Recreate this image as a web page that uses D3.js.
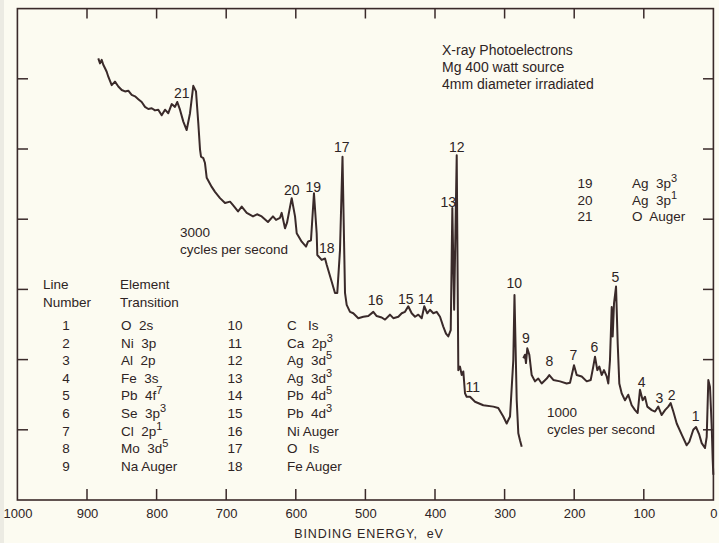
<!DOCTYPE html>
<html><head><meta charset="utf-8">
<script src="https://cdn.jsdelivr.net/npm/d3@7"></script>
<style>
html,body{margin:0;padding:0;background:#fcfbf1;}
svg{display:block;}
text{font-family:"Liberation Sans",Arial,sans-serif;fill:#2e2424;white-space:pre;}
</style></head><body>
<svg id="c" width="719" height="543"></svg>
<script>
// 3000 cycles/s trace (binding energy eV, intensity in axis divisions)
const highRateEnergy = [883.8,881.3,878.9,876.6,874.1,871.7,869.4,864.5,859.8,855.0,850.1,845.4,840.7,835.8,831.0,826.3,821.4,816.7,811.9,807.0,802.3,797.6,792.7,787.9,783.2,778.3,773.6,770.3,766.4,761.6,756.8,752.0,747.3,743.4,740.1,737.6,736.2,732.9,730.5,728.0,720.8,716.1,708.9,701.7,694.5,690.2,683.0,677.7,670.5,661.5,655.7,649.0,640.0,632.8,628.4,622.7,620.3,615.5,612.6,605.9,601.1,598.7,591.5,585.3,582.5,578.2,573.9,570.0,569.1,562.8,558.0,555.6,548.4,543.7,540.4,536.5,532.9,530.7,529.3,526.9,522.1,517.4,510.2,503.0,495.8,488.6,483.8,476.6,471.8,464.7,459.9,452.7,447.8,443.1,438.4,433.5,428.7,424.0,419.1,415.4,411.1,407.2,402.4,397.6,392.8,388.1,384.2,380.9,377.4,375.1,372.5,368.8,366.5,364.1,361.6,359.3,356.9,354.5,349.7,342.5,330.6,316.2,309.1,301.9,297.0,292.2,287.5,285.8,282.6,280.3,277.9,275.4];
const highRateIntensity = [6.29,6.22,6.27,6.20,6.15,6.10,6.03,5.91,5.96,5.89,5.84,5.82,5.83,5.77,5.75,5.71,5.67,5.60,5.57,5.58,5.55,5.56,5.48,5.56,5.51,5.64,5.60,5.67,5.56,5.39,5.27,5.51,5.90,5.82,5.37,4.99,4.89,4.87,4.80,4.59,4.46,4.39,4.30,4.23,4.25,4.20,4.11,4.18,4.09,4.04,4.07,4.04,3.96,4.04,3.99,4.02,4.09,3.87,3.95,4.30,4.04,3.80,3.68,3.61,3.68,3.70,4.37,3.80,3.49,3.42,3.44,3.35,3.11,2.95,2.95,3.56,4.89,3.70,2.95,2.78,2.68,2.66,2.59,2.61,2.62,2.68,2.62,2.60,2.57,2.64,2.59,2.61,2.66,2.68,2.76,2.66,2.61,2.64,2.59,2.76,2.66,2.71,2.66,2.68,2.61,2.47,2.37,2.33,2.42,4.16,2.71,4.91,1.85,1.90,1.78,1.83,1.52,1.47,1.47,1.40,1.35,1.33,1.31,1.19,1.09,1.19,1.99,2.92,1.42,0.95,0.85,0.76];
// 1000 cycles/s trace
const lowRateEnergy = [273.1,270.7,269.3,267.4,264.5,261.1,256.3,251.6,246.7,239.5,235.8,230.0,220.4,210.8,206.0,200.3,196.4,189.2,182.0,176.3,172.6,170.1,166.8,163.9,160.5,157.2,153.3,151.0,148.6,146.1,144.7,142.8,139.9,137.5,135.2,131.8,127.0,122.3,117.4,112.6,108.8,105.5,101.6,98.3,95.0,88.6,83.9,79.2,74.3,69.5,64.8,61.4,57.6,52.7,45.5,38.4,34.6,28.9,25.0,20.3,16.8,12.1,9.6,7.3,4.9,2.4,1.0,0.1];
const lowRateIntensity = [2.02,2.07,1.95,2.16,2.07,1.78,1.69,1.73,1.66,1.73,1.78,1.71,1.69,1.66,1.67,1.92,1.78,1.76,1.69,1.71,1.90,2.04,1.85,1.90,1.78,1.85,1.76,1.66,1.99,2.75,2.33,2.80,3.04,2.23,1.66,1.52,1.42,1.50,1.35,1.28,1.24,1.57,1.42,1.47,1.33,1.28,1.26,1.33,1.21,1.28,1.33,1.38,1.26,1.09,0.93,0.78,0.83,1.00,1.04,0.93,0.81,0.74,0.90,1.71,1.61,1.04,0.57,0.36];

// peak labels
const peakNumbers = ["21","20","19","17","18","12","13","16","15","14","11","10","9","8","7","6","5","4","3","2","1"];
const peakEnergy  = [763.9,605.9,574.9,534.1,555.6,368.8,380.9,485.5,442.0,413.6,345.8,286.1,269.3,235.8,201.3,171.1,140.9,103.0,77.7,59.9,25.4];
const peakLevel   = [5.793,4.416,4.463,5.033,3.585,5.033,4.249,2.849,2.863,2.863,1.605,3.095,2.303,1.984,2.066,2.184,3.172,1.685,1.449,1.496,1.201];

// line table
const lineNumbersA = ["1","2","3","4","5","6","7","8","9"];
const elementsA = ["O  2s","Ni  3p","Al  2p","Fe  3s","Pb  4f","Se  3p","Cl  2p","Mo  3d","Na Auger"];
const supsA = ["","","","","7","3","1","5",""];
const lineNumbersB = ["10","11","12","13","14","15","16","17","18"];
const elementsB = ["C   Is","Ca  2p","Ag  3d","Ag  3d","Pb  4d","Pb  4d","Ni Auger","O   Is","Fe Auger"];
const supsB = ["","3","5","3","5","3","","",""];
const lineNumbersC = ["19","20","21"];
const elementsC = ["Ag  3p","Ag  3p","O  Auger"];
const supsC = ["3","1",""];

const titleLines = ["X-ray Photoelectrons","Mg 400 watt source","4mm diameter irradiated"];
const xTickValues = [1000,900,800,700,600,500,400,300,200,100,0];
const yTickValues = [1,2,3,4,5,6];
const xLabel = "BINDING ENERGY,  eV";

const svg = d3.select("#c");
const ink = "#3a2a2a";
const x = d3.scaleLinear().domain([1000,0]).range([17.4,713.4]);
const y = d3.scaleLinear().domain([0,7]).range([500,8.6]);

// faint scan strip at left edge
svg.append("rect").attr("x",0).attr("y",0).attr("width",4).attr("height",543).attr("fill","#ecebe3");

// frame
svg.append("rect").attr("x",17.4).attr("y",8.6).attr("width",696).attr("height",491.4)
  .attr("fill","none").attr("stroke",ink).attr("stroke-width",1.6);

// bottom axis
const xb = svg.append("g").attr("transform","translate(0,500)")
  .call(d3.axisBottom(x).tickValues(xTickValues).tickSize(0).tickPadding(9).tickFormat(d3.format("d")));
xb.select(".domain").remove();
xb.selectAll("text").attr("font-size",13).attr("fill","#2e2424").style("font-family","Liberation Sans Narrow, Liberation Sans, Arial");
// inner ticks
const inner = xTickValues.filter(v=>v!==1000 && v!==0);
svg.append("g").selectAll("line").data(inner).join("line")
  .attr("x1",d=>x(d)).attr("x2",d=>x(d)).attr("y1",500).attr("y2",489).attr("stroke",ink).attr("stroke-width",1.5);
svg.append("g").selectAll("line").data(inner).join("line")
  .attr("x1",d=>x(d)).attr("x2",d=>x(d)).attr("y1",8.6).attr("y2",18.5).attr("stroke",ink).attr("stroke-width",1.5);
svg.append("g").selectAll("line").data(yTickValues).join("line")
  .attr("x1",17.4).attr("x2",28).attr("y1",d=>y(d)).attr("y2",d=>y(d)).attr("stroke",ink).attr("stroke-width",1.5);
svg.append("g").selectAll("line").data(yTickValues).join("line")
  .attr("x1",703).attr("x2",713.4).attr("y1",d=>y(d)).attr("y2",d=>y(d)).attr("stroke",ink).attr("stroke-width",1.5);

svg.append("text").attr("x",369).attr("y",538).attr("text-anchor","middle")
  .attr("font-size",12.5).attr("letter-spacing",0.9).text(xLabel);

// traces
const line = d3.line().x(d=>x(d[0])).y(d=>y(d[1]));
const hi = highRateEnergy.map((e,i)=>[e,highRateIntensity[i]]);
const lo = lowRateEnergy.map((e,i)=>[e,lowRateIntensity[i]]);
[hi,lo].forEach(s=>svg.append("path").attr("d",line(s)).attr("fill","none")
  .attr("stroke",ink).attr("stroke-width",2).attr("stroke-linejoin","round"));

// peak labels
svg.append("g").selectAll("text").data(peakNumbers).join("text")
  .attr("x",(d,i)=>x(peakEnergy[i])).attr("y",(d,i)=>y(peakLevel[i])+5)
  .attr("text-anchor","middle").attr("font-size",14)
  .style("font-family","Liberation Sans Narrow, Liberation Sans, Arial").text(d=>d);

// title block
svg.append("g").selectAll("text").data(titleLines).join("text")
  .attr("x",442).attr("y",(d,i)=>55+i*17).attr("font-size",14).text(d=>d);

// rate annotations
svg.append("text").attr("x",180).attr("y",237).attr("font-size",13.5).text("3000");
svg.append("text").attr("x",180).attr("y",254).attr("font-size",13.5).text("cycles per second");
svg.append("text").attr("x",547).attr("y",417).attr("font-size",13.5).text("1000");
svg.append("text").attr("x",547).attr("y",434).attr("font-size",13.5).text("cycles per second");

// table headers
svg.append("text").attr("x",43).attr("y",289).attr("font-size",13.5).text("Line");
svg.append("text").attr("x",43).attr("y",307).attr("font-size",13.5).text("Number");
svg.append("text").attr("x",120).attr("y",289).attr("font-size",13.5).text("Element");
svg.append("text").attr("x",120).attr("y",307).attr("font-size",13.5).text("Transition");

function column(nums, els, sups, numX, elX, y0, step){
  const g = svg.append("g");
  g.selectAll("text.n").data(nums).join("text").attr("class","n")
    .attr("x",numX).attr("y",(d,i)=>y0+i*step).attr("text-anchor","middle").attr("font-size",13.5).text(d=>d);
  const t = g.selectAll("text.e").data(els).join("text").attr("class","e")
    .attr("x",elX).attr("y",(d,i)=>y0+i*step).attr("font-size",13.5);
  t.append("tspan").text(d=>d);
  t.append("tspan").attr("dy",-6).attr("font-size",11).text((d,i)=>sups[i]);
}
column(lineNumbersA, elementsA, supsA, 66, 121, 330, 17.6);
column(lineNumbersB, elementsB, supsB, 235, 287, 330, 17.6);
column(lineNumbersC, elementsC, supsC, 585, 632, 188, 16.7);
</script>
</body></html>
